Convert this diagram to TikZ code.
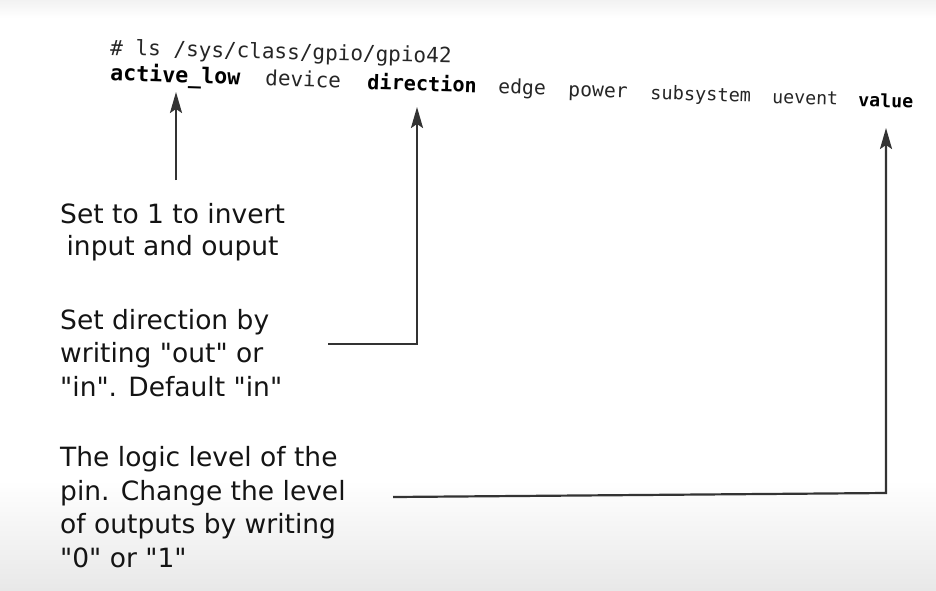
\documentclass[tikz,border=0pt]{standalone}
\usepackage{fontspec}
\setmainfont{DejaVu Sans}
\setmonofont{DejaVu Sans Mono}
\newfontfamily\notefont{DejaVu Sans}
\usetikzlibrary{arrows.meta}
\begin{document}
\begin{tikzpicture}[x=1pt,y=-1pt,
  cmd/.style={anchor=base west,inner sep=0pt,font=\ttfamily\fontsize{#1}{25}\selectfont,text=black!85,rotate=-1.9},
  cmdb/.style={anchor=base west,inner sep=0pt,font=\ttfamily\bfseries\fontsize{#1}{25}\selectfont,text=black,rotate=-1.9},
  note/.style={anchor=base west,inner sep=0pt,font=\notefont\fontsize{26.5}{33.5}\selectfont,text=black!92},
  conn/.style={line width=2.2pt,draw=black!80,line join=miter},
  tip/.style={-{Stealth[length=21pt,width=12pt,inset=4pt]}}]
\useasboundingbox (0,0) rectangle (936,590);
\fill[white] (0,0) rectangle (936,590);
\shade[top color=black!5,bottom color=white] (0,0) rectangle (936,18);
\shade[top color=white,bottom color=black!9] (0,480) rectangle (936,590);
% command line
\node[cmd=21,rotate=0.55] (cmdline) at (110,55) {\# ls /sys/class/gpio/gpio42};
\node[cmdb=21.6] (active) at (110,80.5) {active\_low};
\node[cmd=20.9] (device) at (265,85.5) {device};
\node[cmdb=20.2] (direction) at (367,89) {direction};
\node[cmd=19.7] (edge) at (498,93.5) {edge};
\node[cmd=19.7] (power) at (568,96) {power};
\node[cmd=18.6] (subsystem) at (650,99) {subsystem};
\node[cmd=18.2] (uevent) at (772,103) {uevent};
\node[cmdb=18.2] (value) at (858,106.5) {value};
% notes (anchor = baseline of last line)
\node[note,align=center,font=\notefont\fontsize{26.5}{32}\selectfont] (n1) at (60,255) {Set to 1 to invert\\input and ouput};
\node[note,align=left] (n2) at (60,396) {Set direction by\\writing "out" or\\"in". Default "in"};
\node[note,align=left] (n3) at (60,567) {The logic level of the\\pin. Change the level\\of outputs by writing\\"0" or "1"};
% connector points
\coordinate (a1s) at (176,180);
\coordinate (a1t) at (176,92);
\coordinate (a2s) at (328,344);
\coordinate (a2c) at (417,344);
\coordinate (a2t) at (417,107);
\coordinate (a3s) at (393,497);
\coordinate (a3c) at (886,493);
\coordinate (a3t) at (886,128);
\draw[conn,tip] (a1s) -- (a1t);
\draw[conn,tip] (a2s) -- (a2c) -- (a2t);
\draw[conn,tip] (a3s) -- (a3c) -- (a3t);
\end{tikzpicture}
\end{document}
